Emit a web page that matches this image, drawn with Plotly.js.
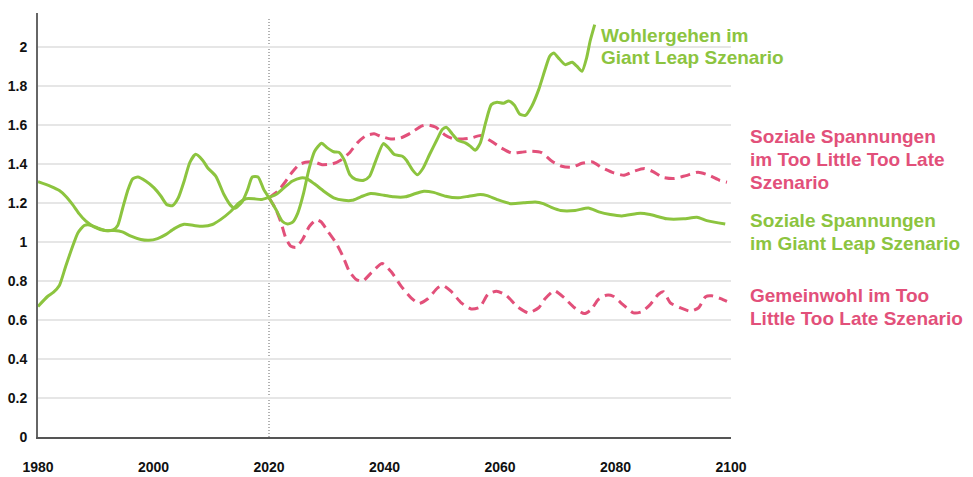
<!DOCTYPE html>
<html>
<head>
<meta charset="utf-8">
<script src="https://cdn.plot.ly/plotly-3.0.1.min.js"></script>
<style>html,body{margin:0;padding:0;background:#fff;}#chart{width:973px;height:477px;}</style>
</head>
<body>
<div id="chart"></div>
<script>
// ---- Data ----
const wohlGLYears = [1980,1981.7,1982.7,1983.7,1984.8,1986,1986.9,1988,1988.9,1990.3,1991.8,1993.1,1993.8,1994.6,1995.5,1996.4,1997.3,1998.7,2000.1,2001.3,2002.3,2003.3,2004.3,2005.3,2006.3,2007.3,2008.5,2009.4,2010.8,2012.2,2013.4,2014.1,2015.4,2016.3,2017.1,2018.1,2019.1,2020,2021.2,2022.3,2023.2,2024.1,2025,2026,2026.9,2027.9,2029.1,2030.1,2031.2,2032.1,2033,2034,2035,2036.4,2037.4,2038.4,2039.8,2040.7,2041.7,2043.1,2043.8,2044.8,2045.7,2046.7,2047.8,2049.1,2050,2050.7,2051.7,2052.7,2054,2054.9,2055.7,2056.6,2057.5,2058.5,2059.5,2060.6,2061.5,2062.5,2063.4,2064.4,2065.5,2066.7,2067.8,2068.6,2069.3,2070.1,2071.3,2072.5,2073.3,2074.2,2075,2075.6,2076.4];
const wohlGLValues = [0.67,0.722,0.743,0.777,0.876,0.978,1.047,1.085,1.088,1.073,1.059,1.064,1.085,1.167,1.261,1.324,1.334,1.312,1.278,1.235,1.192,1.187,1.227,1.312,1.409,1.45,1.42,1.38,1.337,1.244,1.187,1.173,1.209,1.269,1.334,1.334,1.269,1.227,1.167,1.107,1.093,1.102,1.15,1.252,1.372,1.466,1.507,1.483,1.463,1.461,1.423,1.346,1.321,1.317,1.337,1.41,1.505,1.483,1.449,1.44,1.42,1.372,1.345,1.38,1.449,1.526,1.577,1.589,1.556,1.522,1.509,1.491,1.471,1.509,1.611,1.705,1.717,1.712,1.724,1.702,1.657,1.65,1.697,1.782,1.885,1.953,1.97,1.945,1.91,1.922,1.902,1.876,1.945,2.03,2.115];

const spannGLYears = [1980,1982.2,1983.7,1984.8,1986,1987.1,1988.3,1989.7,1991.5,1993.2,1994.6,1996.1,1997.8,1999.2,2000.7,2002.1,2003.6,2005.3,2007,2008.5,2010.2,2011.6,2013.4,2014.8,2016,2017.4,2018.6,2019.7,2021.2,2022.6,2024,2025.5,2026.5,2027.8,2029.5,2031.2,2033,2034.4,2035.9,2037.6,2039.9,2041.6,2043.6,2045.4,2046.8,2048.5,2050.6,2052.6,2054.6,2056.6,2057.8,2059.5,2061.8,2064.1,2066.1,2067.5,2068.9,2070.5,2073,2075.3,2077.1,2079.1,2081.1,2084.3,2086,2088.9,2091.8,2094.1,2095.8,2099];
const spannGLValues = [1.31,1.286,1.264,1.235,1.192,1.146,1.107,1.078,1.059,1.059,1.052,1.03,1.013,1.009,1.018,1.038,1.069,1.091,1.085,1.081,1.09,1.115,1.158,1.201,1.222,1.222,1.218,1.227,1.244,1.278,1.312,1.329,1.326,1.3,1.261,1.227,1.214,1.214,1.232,1.249,1.24,1.232,1.232,1.249,1.261,1.255,1.235,1.227,1.235,1.244,1.238,1.218,1.197,1.201,1.206,1.197,1.178,1.162,1.162,1.175,1.155,1.141,1.134,1.148,1.141,1.119,1.119,1.127,1.11,1.093];

const spannTLYears = [2020,2021.5,2022.9,2024,2025.2,2026.3,2027.8,2029.2,2031,2032.4,2033.9,2035.3,2036.8,2038.2,2039.3,2041.1,2042.8,2044.6,2046.3,2047.5,2048.9,2050.4,2051.8,2053.6,2055,2056.7,2058.5,2060.2,2062,2063.7,2065.5,2067.2,2069,2070.7,2072.5,2074.2,2076,2077.7,2079.7,2081.5,2083.2,2085,2086.4,2088.2,2090.2,2092.2,2094.3,2096.3,2098,2099.3];
const spannTLValues = [1.227,1.26,1.312,1.358,1.397,1.409,1.411,1.397,1.401,1.42,1.457,1.509,1.546,1.555,1.543,1.529,1.534,1.56,1.594,1.601,1.589,1.551,1.531,1.529,1.534,1.546,1.517,1.483,1.457,1.461,1.466,1.459,1.414,1.389,1.384,1.404,1.411,1.381,1.355,1.343,1.363,1.377,1.363,1.332,1.326,1.341,1.358,1.341,1.317,1.307];

const gemeinTLYears = [2020,2021.2,2022.1,2022.9,2023.8,2024.7,2025.8,2027,2028.2,2029,2030.2,2031.6,2032.8,2033.9,2035.1,2036.2,2037.7,2039.6,2041.1,2042.9,2044.6,2046,2047.5,2049.2,2050.1,2051.5,2053.3,2055,2056.5,2057.9,2059.4,2061.1,2062.9,2064.9,2066.7,2067.8,2069.4,2071.1,2072.9,2074.6,2075.8,2077,2078.4,2079.6,2081.3,2083.1,2084.5,2086,2087.4,2088.3,2089.5,2091.2,2093,2094.4,2095.6,2096.7,2098.2,2099.3];
const gemeinTLValues = [1.227,1.167,1.098,1.021,0.978,0.973,1.013,1.081,1.115,1.104,1.055,0.996,0.927,0.85,0.808,0.799,0.842,0.89,0.85,0.773,0.714,0.685,0.709,0.765,0.777,0.748,0.688,0.657,0.666,0.731,0.748,0.726,0.671,0.637,0.663,0.709,0.75,0.714,0.663,0.633,0.654,0.705,0.727,0.722,0.679,0.637,0.642,0.679,0.731,0.745,0.688,0.663,0.645,0.663,0.72,0.724,0.71,0.696];

const xTickVals = [1980,2000,2020,2040,2060,2080,2100];
const xTickText = ['1980','2000','2020','2040','2060','2080','2100'];
const yTickVals = [0,0.2,0.4,0.6,0.8,1,1.2,1.4,1.6,1.8,2];
const yTickText = ['0','0.2','0.4','0.6','0.8','1','1.2','1.4','1.6','1.8','2'];
const todayYear = 2020;

const labelWohlGL = ['Wohlergehen im','Giant Leap Szenario'];
const labelSpannTL = ['Soziale Spannungen','im Too Little Too Late','Szenario'];
const labelSpannGL = ['Soziale Spannungen','im Giant Leap Szenario'];
const labelGemeinTL = ['Gemeinwohl im Too','Little Too Late Szenario'];

// ---- Styles ----
const GREEN = '#8cc43f';
const PINK = '#e2507a';
const FONT = 'Liberation Sans, Arial, Helvetica, sans-serif';

const traces = [
  {x: spannTLYears, y: spannTLValues, mode:'lines', line:{color:PINK, width:3, dash:'10px,6px', shape:'spline', smoothing:0.6}, hoverinfo:'skip'},
  {x: gemeinTLYears, y: gemeinTLValues, mode:'lines', line:{color:PINK, width:3, dash:'10px,6px', shape:'spline', smoothing:0.6}, hoverinfo:'skip'},
  {x: spannGLYears, y: spannGLValues, mode:'lines', line:{color:GREEN, width:3, shape:'spline', smoothing:0.6}, hoverinfo:'skip'},
  {x: wohlGLYears, y: wohlGLValues, mode:'lines', line:{color:GREEN, width:3, shape:'spline', smoothing:0.6}, hoverinfo:'skip'}
];

// plot area geometry helpers (pixel -> paper)
const M = {l:38, r:242, t:13, b:40};
const PW = 973 - M.l - M.r, PH = 477 - M.t - M.b;
const px2x = p => (p - M.l) / PW;
const py2y = p => (477 - M.b - p) / PH;

function lineAnns(lines, left, tops, color){
  return lines.map((t,i)=>({
    text: t, xref:'paper', yref:'paper', x: px2x(left), y: py2y(tops[i]),
    xanchor:'left', yanchor:'middle', showarrow:false, align:'left',
    font:{family:FONT, size:19, color:color, weight:'bold'}
  }));
}

const annotations = [].concat(
  lineAnns(labelWohlGL, 599, [35, 57.5], GREEN),
  lineAnns(labelSpannTL, 748, [136, 159, 182], PINK),
  lineAnns(labelSpannGL, 748, [220, 243], GREEN),
  lineAnns(labelGemeinTL, 748, [295, 318], PINK)
);

const layout = {
  width:973, height:477,
  margin: M,
  paper_bgcolor:'#ffffff', plot_bgcolor:'#ffffff',
  showlegend:false,
  xaxis:{
    range:[1980,2100], tickvals:xTickVals, ticktext:xTickText,
    showgrid:false, zeroline:false, showline:true, linecolor:'#555555', linewidth:2,
    ticks:'', ticklabelstandoff:16,
    tickfont:{family:FONT, size:14, color:'#111111', weight:'bold'},
    fixedrange:true
  },
  yaxis:{
    range:[0,2.175], tickvals:yTickVals, ticktext:yTickText,
    showgrid:true, gridcolor:'#e6e6e6', gridwidth:1.5, zeroline:false,
    showline:true, linecolor:'#666666', linewidth:2,
    ticks:'', ticklabelstandoff:6,
    tickfont:{family:FONT, size:14, color:'#111111', weight:'bold'},
    fixedrange:true
  },
  shapes:[{
    type:'line', xref:'x', yref:'y', x0:todayYear, x1:todayYear, y0:0, y1:2.15,
    line:{color:'#666666', width:1, dash:'1px,2px'}, layer:'below'
  }],
  annotations: annotations
};

Plotly.newPlot('chart', traces, layout, {staticPlot:true, displayModeBar:false});
</script>
</body>
</html>
